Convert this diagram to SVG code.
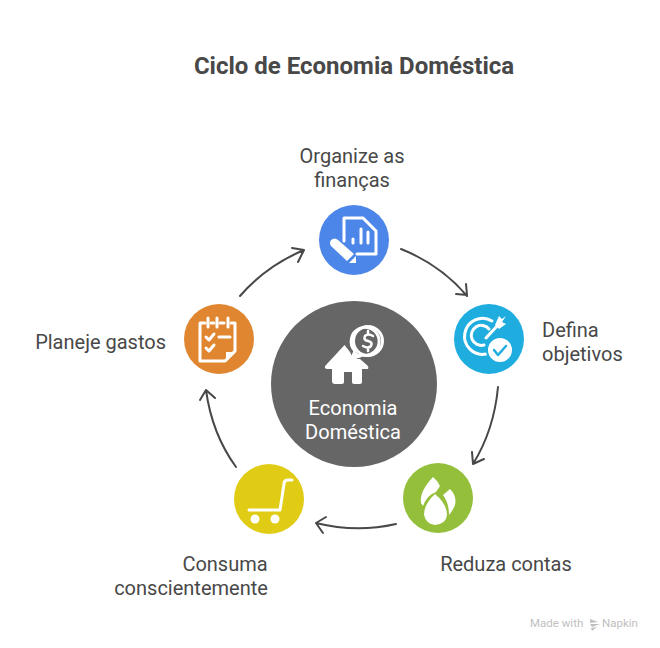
<svg xmlns="http://www.w3.org/2000/svg" width="660" height="648" viewBox="0 0 660 648">
<style>
text{font-family:Roboto,"Liberation Sans",sans-serif;}
.t{font-size:20px;fill:#484848;}
.c{fill:none;stroke:#484848;stroke-width:2;stroke-linecap:round;stroke-linejoin:round;}
.w{fill:#fff;}
.s{fill:none;stroke:#fff;stroke-width:3;stroke-linecap:round;stroke-linejoin:round;}
</style>
<rect width="660" height="648" fill="#fff"/>
<text id="title" x="354" y="74" text-anchor="middle" font-size="24" font-weight="700" fill="#484848">Ciclo de Economia Doméstica</text>
<g id="connectors">
<path class="c" d="M240 296Q266 266 304 250M292 248L304 250L298 262"/>
<path class="c" d="M401 249Q441 265 467 296M466 284L467 295L456 294"/>
<path class="c" d="M498 387Q494 430 473 464M472 452L473 464L484 459"/>
<path class="c" d="M396 524Q356 533 316 523M326 517L316 523L323 533"/>
<path class="c" d="M236 467Q212 434 206 390M200 400L206 390L215 398"/>
</g>
<g id="center">
<circle cx="354" cy="384" r="83" fill="#666"/>
<path class="w" d="M345 344L350 350Q352 354 356 355L363 359L383 0" style="display:none"/>
<path class="w" d="M345 345L351 352Q353 357 358 358L366 361L368 362L383 375Q386 378 381 379H376V389Q376 393 372 393H365Q363 393 363 391V378H352V391Q352 393 350 393H336Q332 393 332 389V379H327Q323 378 326 375Z" transform="translate(0,-9)" style="display:none"/>
<path class="w" d="M344 345L349 351Q351 356 356 358L363 358L364 362L368 365L383 378Q371 0 0 0" style="display:none"/>
<path class="w" d="M344 345L348 350Q350 356 355 358L362 361L369 365L367 365L367 366L367 366L383 373Q370 0 0 0" style="display:none"/>
<path class="w" d="M344 345L349 351Q350 356 355 358L360 362L368 363L368 364L368 364L369 366L368 366Z" style="display:none"/>
<path class="w" d="M344 345L350 352Q351 357 357 359H361L368 363L368 363L368 363Z" style="display:none"/>
<path class="w" d="M344 345L350 352Q352 358 358 359H362L367 363L368 363L368 363L368 363L368 363L368 363L368 363Z" style="display:none"/>
<path class="w" d="M344 345L350 352Q352 358 358 359L362 359L368 363L367 366H367L379 366Q370 0 0 0" style="display:none"/>
<path class="w" d="M344.500 345L350 352Q352 358 358 359L360 359L368 366L367 366Q369 366 368 369H362V382Q362 384 360 384H354Q352 384 352 382V372H344V382Q344 384 342 384H335Q332 384 332 381V369H327Q323 368 326 365Z"/>
<path class="s" d="M352 358L355 351A14 14 0 1 1 362 355Z" stroke-width="2.500"/>
<path class="w" d="M351 360L355 351L362 357Z"/>
<circle cx="368" cy="341" r="14.500" fill="none" stroke="#fff" stroke-width="3"/>
<path d="M373 336Q368 333 365 336Q363 340 368 341Q373 342 371 346Q368 349 363 346M368 331V334M368 348V351" fill="none" stroke="#fff" stroke-width="2.500" stroke-linecap="round"/>
<text x="353" y="415" text-anchor="middle" font-size="20" fill="#fff">Economia</text>
<text x="353" y="439" text-anchor="middle" font-size="20" fill="#fff">Doméstica</text>
</g>
<g id="node-organize">
<circle cx="354" cy="240" r="35" fill="#4c86e8"/>
<path class="s" d="M344 241V218H363L376 231V254H357" stroke-width="2.500" stroke-linecap="butt"/>
<path class="s" d="M353 243V239M361 243V229M368 243V232" stroke-width="3.500" stroke-linecap="butt"/>
<path class="w" d="M331 240Q335 237 338 240L354 254L347 261L331 246Q329 243 331 240Z"/>
<path class="w" d="M349 263L356 256L356 263Z"/>
<text class="t" x="352" y="163" text-anchor="middle">Organize as</text>
<text class="t" x="352" y="187" text-anchor="middle">finanças</text>
</g>
<g id="node-defina">
<circle cx="489" cy="339" r="35" fill="#1fade0"/>
<path class="s" d="M492 321A18 18 0 1 0 486 354" stroke-width="3.500" stroke-linecap="butt"/>
<path class="s" d="M489 329A10 10 0 1 0 484 345" stroke-width="3.500" stroke-linecap="butt"/>
<path class="s" d="M486 338L498 325" stroke-width="3"/>
<path class="w" d="M495 325L499 316L502 319L506 316L502 322L506 324L499 329Z"/>
<circle cx="500" cy="350" r="13" fill="#fff" stroke="#1fade0" stroke-width="2"/>
<path d="M494 350L498 355L506 346" fill="none" stroke="#1fade0" stroke-width="2.500" stroke-linecap="round" stroke-linejoin="round"/>
<text class="t" x="542" y="337">Defina</text>
<text class="t" x="542" y="361">objetivos</text>
</g>
<g id="node-reduza">
<circle cx="438" cy="498" r="35" fill="#94bf3a"/>
<path class="w" d="M433 477Q419 492 421 503L423 506Q427 495 436 492L440 486Q437 480 433 477Z"/>
<path class="w" d="M450 489Q457 496 455 505Q452 512 449 515Q449 503 443 495Z"/>
<path class="w" d="M435 494Q424 504 424 515Q426 524 435 525Q446 524 447 515Q447 504 435 494Z"/>
<text class="t" x="506" y="571" text-anchor="middle">Reduza contas</text>
</g>
<g id="node-consuma">
<circle cx="269" cy="499" r="35" fill="#e0cc14"/>
<path class="s" d="M249 510H280L284 484Q284 480 288 480H292" stroke-width="4"/>
<circle cx="255" cy="519" r="4.500" class="w"/>
<circle cx="275" cy="519" r="4.500" class="w"/>
<text class="t" x="191" y="571" text-anchor="end" style="display:none"></text>
<text class="t" x="225" y="571" text-anchor="middle">Consuma</text>
<text class="t" x="191" y="595" text-anchor="middle">conscientemente</text>
</g>
<g id="node-planeje">
<circle cx="219" cy="339" r="35" fill="#e08630"/>
<path class="s" d="M205 323H200V361H225L235 351V323H231M211 323H214M220 323H224" stroke-width="3" stroke-linecap="butt"/>
<path class="s" d="M208 318V327M217 318V327M228 318V327" stroke-width="3"/>
<path class="s" d="M206 337L209 340L214 334M206 348L209 351L214 345M219 337H230" stroke-width="3"/>
<path class="w" d="M226 352H236L226 362Z"/>
<text class="t" x="166" y="349" text-anchor="end">Planeje gastos</text>
</g>
<g id="watermark">
<text x="530" y="627" font-size="11.500" fill="#c0c0c0">Made with</text>
<path d="M590 619L598 622L590 623ZM590 624L600 624L592 627ZM591 628L597 627L592 631Z" fill="#c0c0c0"/>
<text x="602" y="627" font-size="11.500" fill="#c0c0c0">Napkin</text>
</g>
</svg>
